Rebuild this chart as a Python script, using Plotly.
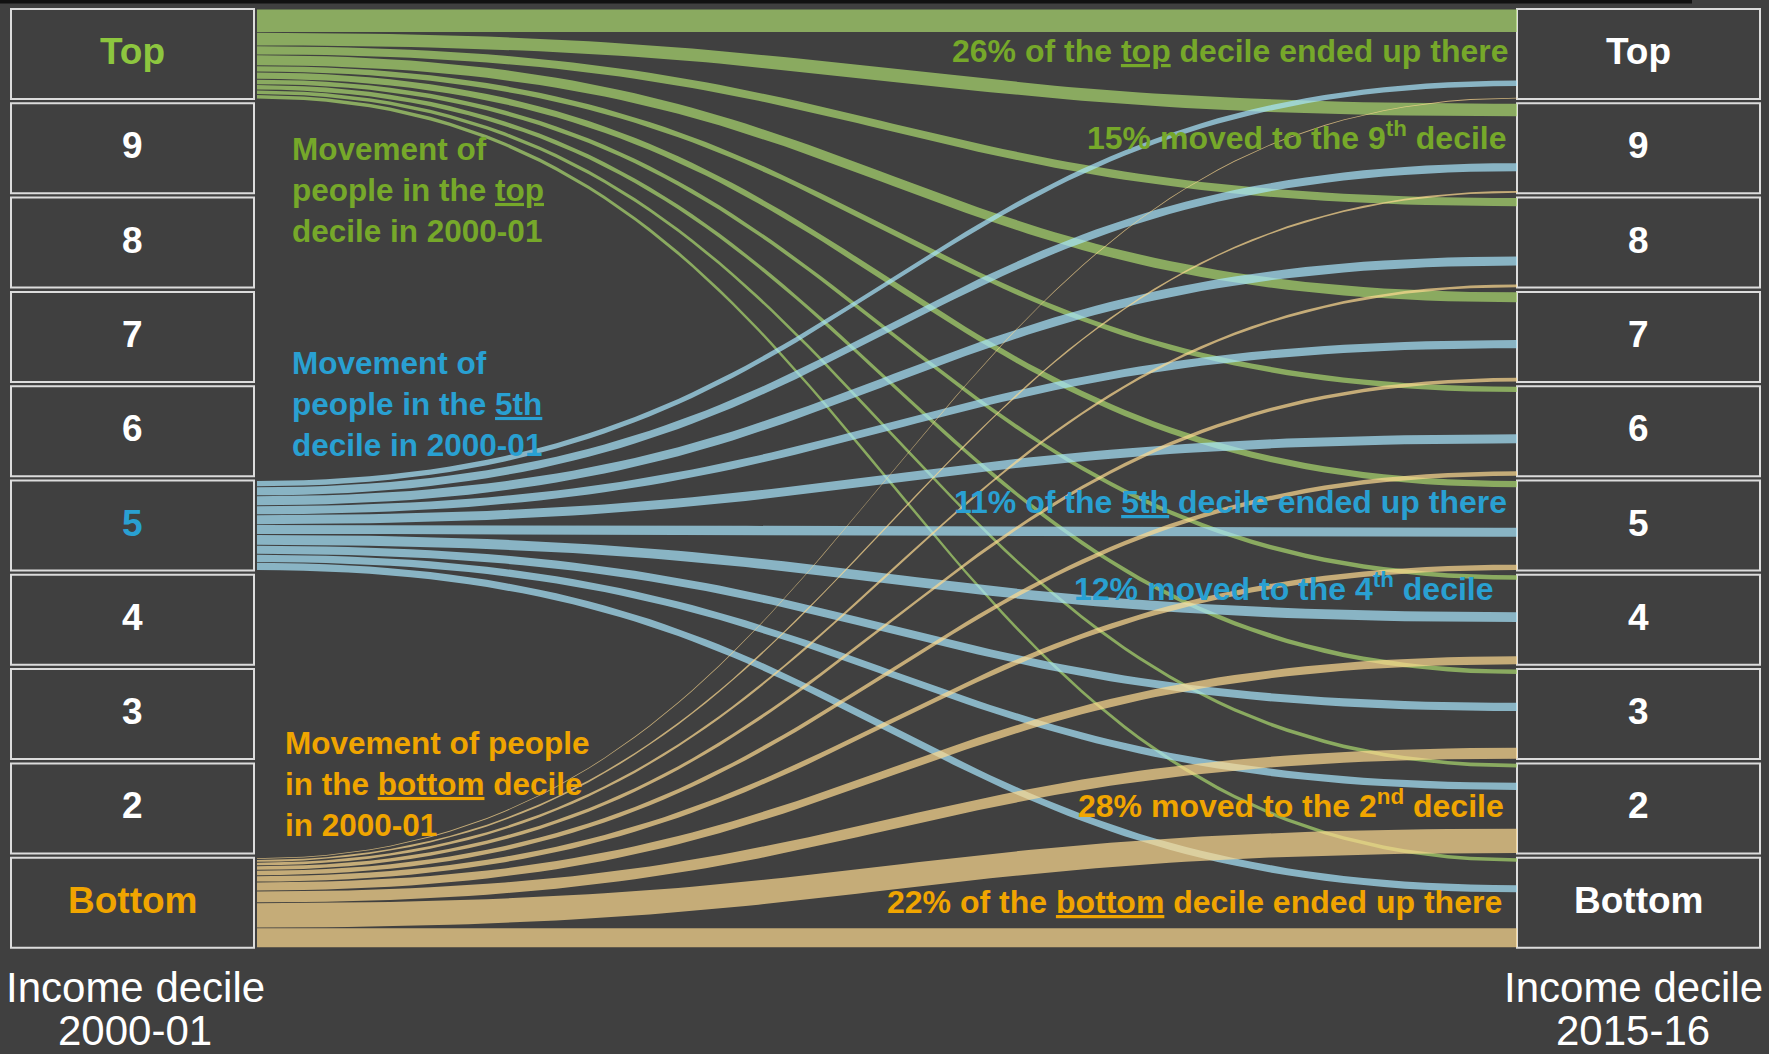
import numpy as np
import plotly.graph_objects as go

# ---------------- data ----------------
deciles = ["Top", "9", "8", "7", "6", "5", "4", "3", "2", "Bottom"]
# % of each 2000-01 decile ending in each 2015-16 decile (Top .. Bottom)
top_to = [26, 15, 10, 12, 7, 8, 6, 6, 5, 5]
fifth_to = [7, 10, 11, 10, 11, 11, 12, 10, 9, 9]
bottom_to = [2, 3, 4, 5, 6, 7, 10, 13, 28, 22]
# % of each 2015-16 decile that arrived from deciles above the 5th (stacking offset of 5th-decile stream)
from_above_fifth = [79, 66, 65, 53, 53, 52, 41, 37, 21, 30]

# ---------------- layout constants ----------------
W, H = 1769, 1054
BG = "#404040"
TOP0 = 9.0          # top of first box (px)
PITCH = 94.3        # box pitch (px)
BOXH = 90.0         # box height (px)
SC = BOXH / 100.0   # px per percentage point
LX0, LX1 = 11, 254
RX0, RX1 = 1517, 1760
FX0, FX1 = 257, 1517

GREEN_T = "#76a82a"
GREEN_L = "#8dc63f"
BLUE_T = "#29a0d2"
ORANGE_T = "#f0a500"
FONT = "Liberation Sans, Arial, sans-serif"

flow_cols = {
    "top": "rgba(170,215,110,0.7)",
    "fifth": "rgba(168,230,252,0.7)",
    "bottom": "rgba(253,218,144,0.7)",
}


def box_top(k):
    return TOP0 + k * PITCH


def bez(x0, y0, x1, y1, n=80, c=0.5):
    t = np.linspace(0, 1, n)
    dx = x1 - x0
    cx0, cx1 = x0 + c * dx, x1 - c * dx
    x = (1 - t) ** 3 * x0 + 3 * (1 - t) ** 2 * t * cx0 + 3 * (1 - t) * t ** 2 * cx1 + t ** 3 * x1
    y = (1 - t) ** 3 * y0 + 3 * (1 - t) ** 2 * t * y0 + 3 * (1 - t) * t ** 2 * y1 + t ** 3 * y1
    return x, y


fig = go.Figure()

INSET = 0.45


def add_group(src_idx, shares, dest_offsets, color):
    cum = 0.0
    for j, s in enumerate(shares):
        ly0 = box_top(src_idx) + cum * SC + INSET
        ly1 = box_top(src_idx) + (cum + s) * SC - INSET
        ry0 = box_top(j) + dest_offsets[j] * SC + INSET
        ry1 = box_top(j) + (dest_offsets[j] + s) * SC - INSET
        xu, yu = bez(FX0, ly0, FX1, ry0)
        xl, yl = bez(FX0, ly1, FX1, ry1)
        xs = np.concatenate([xu, xl[::-1], xu[:1]])
        ys = np.concatenate([yu, yl[::-1], yu[:1]])
        fig.add_trace(go.Scatter(x=xs, y=ys, mode="lines", fill="toself",
                                 fillcolor=color, line=dict(width=0),
                                 hoverinfo="skip", showlegend=False))
        cum += s


add_group(0, top_to, [0] * 10, flow_cols["top"])
add_group(5, fifth_to, from_above_fifth, flow_cols["fifth"])
add_group(9, bottom_to, [100 - b for b in bottom_to], flow_cols["bottom"])

shapes = []
annotations = []
shapes.append(dict(type="rect", xref="x", yref="y", x0=0, x1=1692, y0=0, y1=3.5,
                   fillcolor="#111111", line=dict(width=0), layer="below"))

label_col = {0: GREEN_L, 5: BLUE_T, 9: ORANGE_T}
for k, lab in enumerate(deciles):
    for (x0, x1, side) in [(LX0, LX1, "L"), (RX0, RX1, "R")]:
        shapes.append(dict(type="rect", xref="x", yref="y", x0=x0, x1=x1,
                           y0=box_top(k), y1=box_top(k) + BOXH,
                           line=dict(color="#dcdcdc", width=2), fillcolor=BG, layer="below"))
        col = label_col.get(k, "white") if side == "L" else "white"
        annotations.append(dict(x=(x0 + x1) / 2, y=box_top(k) + BOXH / 2 - 2.5, xref="x", yref="y",
                                text=f"<b>{lab}</b>", showarrow=False,
                                font=dict(family=FONT, size=37, color=col),
                                xanchor="center", yanchor="middle"))

# axis captions
for x, t1, t2 in [(135, "Income decile", "2000-01"), (1633, "Income decile", "2015-16")]:
    annotations.append(dict(x=x, y=987, xref="x", yref="y", text=t1, showarrow=False,
                            font=dict(family=FONT, size=42, color="white"),
                            xanchor="center", yanchor="middle"))
    annotations.append(dict(x=x, y=1030, xref="x", yref="y", text=t2, showarrow=False,
                            font=dict(family=FONT, size=42, color="white"),
                            xanchor="center", yanchor="middle"))

# left explanatory texts
left_notes = [
    (290, 190, "Movement of<br>people in the <u>top</u><br>decile in 2000-01", GREEN_T),
    (290, 404, "Movement of<br>people in the <u>5th</u><br>decile in 2000-01", BLUE_T),
    (283, 784, "Movement of people<br>in the <u>bottom</u> decile<br>in 2000-01", ORANGE_T),
]
for x, y, t, c in left_notes:
    annotations.append(dict(x=x, y=y, xref="x", yref="y", text=f"<b>{t}</b>", showarrow=False,
                            font=dict(family=FONT, size=31.5, color=c), align="left",
                            xanchor="left", yanchor="middle"))

right_notes = [
    (1511, 51, "26% of the <u>top</u> decile ended up there", GREEN_T),
    (1509, 136, "15% moved to the 9<sup>th</sup> decile", GREEN_T),
    (1509, 502, "11% of the <u>5th</u> decile ended up there", BLUE_T),
    (1496, 587, "12% moved to the 4<sup>th</sup> decile", BLUE_T),
    (1506, 804, "28% moved to the 2<sup>nd</sup> decile", ORANGE_T),
    (1504, 902, "22% of the <u>bottom</u> decile ended up there", ORANGE_T),
]
for x, y, t, c in right_notes:
    annotations.append(dict(x=x, y=y, xref="x", yref="y", text=f"<b>{t}</b>", showarrow=False,
                            font=dict(family=FONT, size=32, color=c),
                            xanchor="right", yanchor="middle"))

fig.update_layout(
    width=W, height=H,
    margin=dict(l=0, r=0, t=0, b=0),
    paper_bgcolor=BG, plot_bgcolor=BG,
    xaxis=dict(range=[0, W], visible=False, fixedrange=True),
    yaxis=dict(range=[H, 0], visible=False, fixedrange=True),
    shapes=shapes, annotations=annotations,
    showlegend=False,
)

fig.write_html(
    "out.html",
    config={"displayModeBar": False},
    post_script="document.body.style.margin='0';document.body.style.overflow='hidden';document.body.style.background='#404040';",
)
